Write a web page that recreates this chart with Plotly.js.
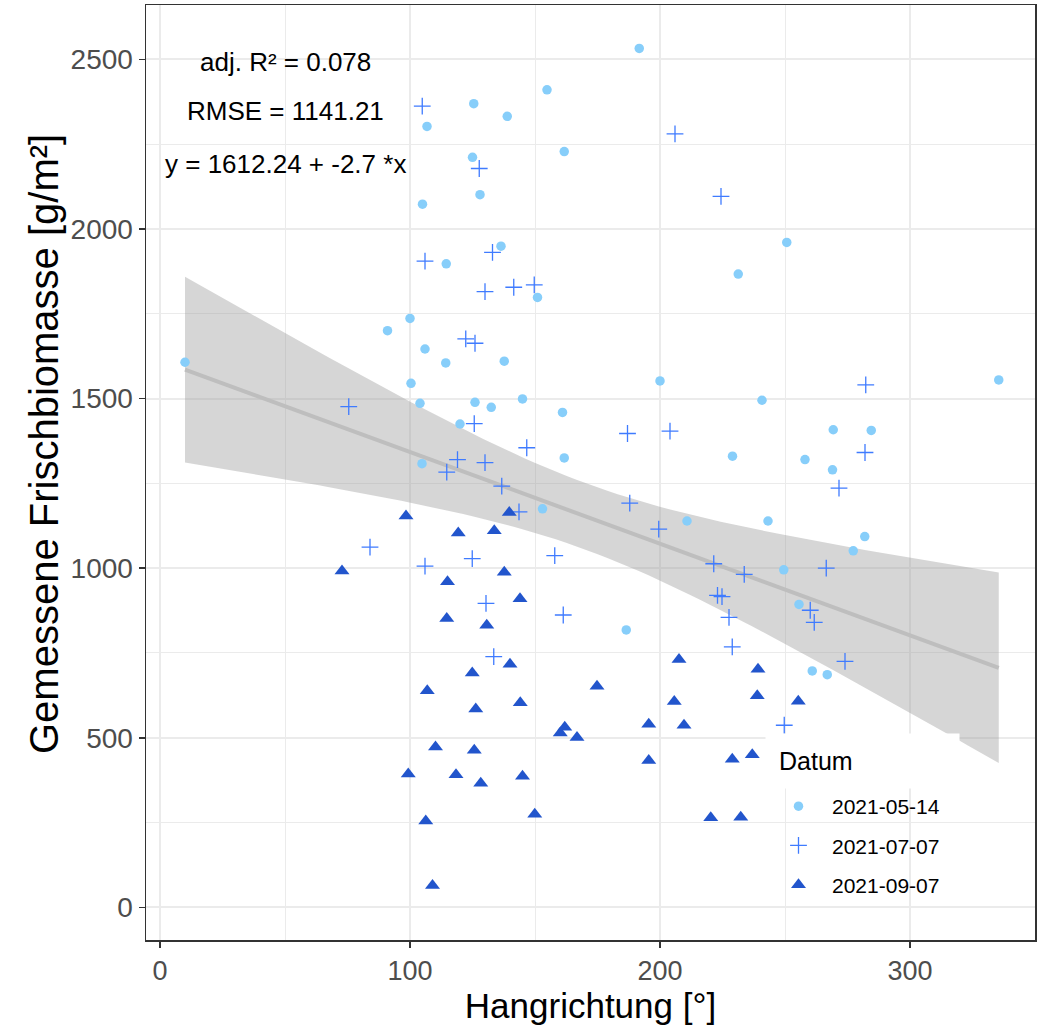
<!DOCTYPE html>
<html>
<head>
<meta charset="utf-8">
<script src="https://cdn.plot.ly/plotly-3.0.1.min.js"></script>
<style>html,body{margin:0;padding:0;background:#fff;}#chart{width:1043px;height:1025px;}</style>
</head>
<body>
<div id="chart"></div>
<script>
// ---- data ----
const seriesNames = ["2021-05-14", "2021-07-07", "2021-09-07"];
const legendTitle = "Datum";
const xTitle = "Hangrichtung [°]";
const yTitle = "Gemessene Frischbiomasse [g/m²]";

const maiX = [10, 91, 100, 100.4, 104, 104.8, 106, 105, 106.8, 114.5, 114.3, 120, 125.5, 125, 126, 128, 132.5, 136.4, 137.7, 138.9, 145, 151, 153, 154.8, 161, 161.7, 161.7, 186.5, 191.7, 200, 210.8, 229, 231.3, 240.8, 243.2, 249.5, 250.7, 255.6, 258, 260.9, 266.9, 269, 269.3, 277.3, 281.9, 284.5, 335.5];
const maiY = [1607, 1700, 1736, 1545, 1486, 1308, 1646, 2073, 2302, 1897, 1605, 1425, 2369, 2211, 1489, 2101, 1474, 1949, 1610, 2332, 1499, 1798, 1175, 2410, 1459, 1325, 2228, 818, 2532, 1552, 1139, 1330, 1867, 1495, 1139, 995, 1960, 893, 1320, 697, 686, 1290, 1408, 1051, 1093, 1406, 1555];

const juliX = [104.9, 106, 206, 127.7, 224.4, 133, 130, 141.5, 149.7, 122.3, 126, 125.7, 146.7, 119, 114.7, 130, 136.7, 143.6, 187, 204, 187.9, 199.5, 106, 124.9, 157.9, 221.5, 223, 224.8, 130.4, 161.3, 227.6, 75.5, 84, 282.3, 282, 271.6, 233.7, 266.5, 260.1, 261.7, 228.9, 274, 249.7, 133.5];
const juliY = [2362, 1905, 2280, 2178, 2096, 1931, 1815, 1828, 1835, 1676, 1663, 1426, 1355, 1320, 1283, 1311, 1242, 1166, 1397, 1404, 1192, 1115, 1006, 1028, 1037, 1013, 920, 916, 896, 862, 855, 1476, 1062, 1540, 1341, 1236, 982, 1000, 876, 840, 768, 725, 537, 739];

const septX = [72.8, 98.4, 99.3, 106.3, 106.9, 109, 110.2, 114.7, 115, 118.4, 119.3, 124.9, 125.7, 126.3, 128.3, 130.7, 133.7, 137.7, 139.7, 140, 144, 144.1, 145, 149.9, 160.1, 161.9, 166.8, 174.8, 195.5, 195.5, 205.7, 207.6, 209.6, 220.3, 228.9, 232.3, 236.9, 238.9, 239.2, 255.3];
const septY = [992, 1154, 393, 255, 639, 65, 473, 852, 960, 391, 1104, 691, 463, 585, 366, 832, 1110, 988, 1164, 717, 910, 603, 387, 275, 514, 531, 501, 652, 540, 433, 607, 731, 537, 264, 437, 266, 450, 624, 702, 608];

// model text shown in the chart
const fitIntercept = 1612.24;
const fitSlope = -2.7;
const statLabels = ["adj. R² = 0.078", "RMSE = 1141.21", "y = 1612.24 + -2.7 *x"];
const statLabelX = [50, 50, 50];
const statLabelY = [2492, 2347, 2191];

// ---- regression line and 95% confidence band ----
const allX = maiX.concat(juliX, septX);
const allY = maiY.concat(juliY, septY);
const n = allX.length;
const xbar = allX.reduce((a, b) => a + b, 0) / n;
let sxx = 0, ssr = 0;
for (let i = 0; i < n; i++) {
  sxx += (allX[i] - xbar) ** 2;
  const r = allY[i] - (fitIntercept + fitSlope * allX[i]);
  ssr += r * r;
}
const s = Math.sqrt(ssr / (n - 2));
const tq = 1.978;
const xmin = Math.min(...allX), xmax = Math.max(...allX);
const lx = [], ly = [], lo = [], hi = [];
for (let k = 0; k < 80; k++) {
  const x = xmin + (xmax - xmin) * k / 79;
  const y = fitIntercept + fitSlope * x;
  const se = s * Math.sqrt(1 / n + (x - xbar) ** 2 / sxx);
  lx.push(x); ly.push(y); lo.push(y - tq * se); hi.push(y + tq * se);
}

const traces = [
  {x: lx, y: lo, mode: 'lines', line: {width: 0, color: 'rgba(0,0,0,0)'}, showlegend: false, hoverinfo: 'skip'},
  {x: lx, y: hi, mode: 'lines', line: {width: 0, color: 'rgba(0,0,0,0)'}, fill: 'tonexty', fillcolor: 'rgba(153,153,153,0.4)', showlegend: false, hoverinfo: 'skip'},
  {x: lx, y: ly, mode: 'lines', line: {width: 4, color: '#BEBEBE'}, showlegend: false, hoverinfo: 'skip'},
  {x: maiX, y: maiY, mode: 'markers', name: seriesNames[0], legendgroup: 'a',
   marker: {symbol: 'circle', size: 9.5, color: '#87CEFA'}},
  {x: juliX, y: juliY, mode: 'markers', name: seriesNames[1], legendgroup: 'b',
   marker: {symbol: 'cross-thin', size: 12, line: {width: 1.3, color: '#3F7BFF'}, color: '#3F7BFF'}},
  {x: septX, y: septY, mode: 'markers', name: seriesNames[2], legendgroup: 'c',
   marker: {symbol: 'triangle-up', size: 13, color: '#2255CC'}}
];

const FONT = 'Liberation Sans, Arial, sans-serif';
const annotations = statLabels.map((t, i) => ({
  x: statLabelX[i], y: statLabelY[i], xref: 'x', yref: 'y', text: t, showarrow: false,
  xanchor: 'center', yanchor: 'middle',
  font: {family: FONT, size: 26, color: '#000'}
}));
// legend title
annotations.push({
  xref: 'paper', yref: 'paper', x: (765 - 146) / 889, y: (940 - 733) / 935,
  xanchor: 'left', yanchor: 'top', showarrow: false,
  text: legendTitle, align: 'left', valign: 'middle',
  width: 167, height: 28, bgcolor: '#fff', borderpad: 13,
  font: {family: FONT, size: 25, color: '#000'}
});
// y-axis title
annotations.push({
  xref: 'paper', yref: 'paper', x: (44 - 146) / 889, y: (940 - 444) / 935,
  xanchor: 'center', yanchor: 'middle', showarrow: false, textangle: -90,
  text: yTitle, font: {family: FONT, size: 40, color: '#000'}
});

const gridCol = '#EBEBEB';
const layout = {
  width: 1043, height: 1025,
  paper_bgcolor: '#fff', plot_bgcolor: '#fff',
  margin: {l: 146, r: 8, t: 5, b: 85},
  font: {family: FONT},
  xaxis: {
    range: [-5.6, 350], tickvals: [0, 100, 200, 300], ticktext: ['0', '100', '200', '300'],
    showgrid: true, gridcolor: gridCol, gridwidth: 2, zeroline: false,
    minor: {dtick: 50, tick0: 0, showgrid: true, gridcolor: gridCol, gridwidth: 1},
    ticks: 'outside', ticklen: 6, tickwidth: 1.5, tickcolor: '#333',
    showline: true, mirror: true, linecolor: '#333', linewidth: 1.5,
    tickfont: {size: 27, color: '#4D4D4D'},
    title: {text: xTitle, font: {size: 35, color: '#000'}, standoff: 3},
    automargin: false
  },
  yaxis: {
    range: [-96, 2660], tickvals: [0, 500, 1000, 1500, 2000, 2500],
    ticktext: ['0', '500', '1000', '1500', '2000', '2500'],
    showgrid: true, gridcolor: gridCol, gridwidth: 2, zeroline: false,
    minor: {dtick: 250, tick0: 0, showgrid: true, gridcolor: gridCol, gridwidth: 1},
    ticks: 'outside', ticklen: 6, tickwidth: 1.5, tickcolor: '#333',
    showline: true, mirror: true, linecolor: '#333', linewidth: 1.5,
    tickfont: {size: 28, color: '#4D4D4D'},
    automargin: false
  },
  shapes: [{
    type: 'rect', xref: 'paper', yref: 'paper', layer: 'between',
    x0: (765 - 146) / 889, x1: (958 - 146) / 889,
    y0: (940 - 935) / 935, y1: (940 - 733) / 935,
    fillcolor: '#fff', line: {width: 0}
  }],
  legend: {
    x: (765 - 146) / 889, y: (940 - 786) / 935, xanchor: 'left', yanchor: 'top',
    bgcolor: 'rgba(255,255,255,0)', borderwidth: 0, itemwidth: 57,
    traceorder: 'grouped', tracegroupgap: 9,
    font: {size: 21, color: '#000'}
  },
  annotations: annotations,
  showlegend: true
};

Plotly.newPlot('chart', traces, layout, {displayModeBar: false, staticPlot: true});
</script>
</body>
</html>
